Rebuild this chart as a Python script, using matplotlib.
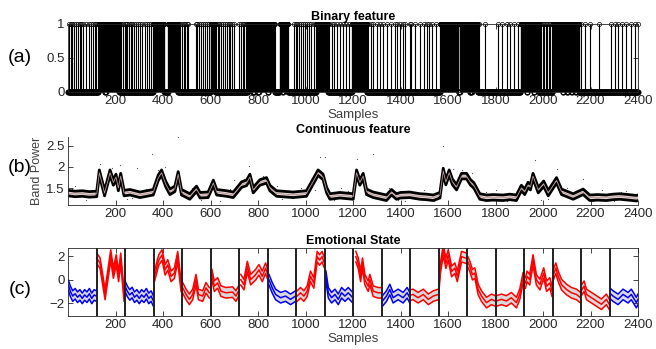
import numpy as np
import matplotlib
matplotlib.use("Agg")
import matplotlib.pyplot as plt

plt.rcParams['font.family'] = ['Liberation Sans', 'DejaVu Sans']

# ---- (a) binary feature: sample indices that are 1 ----
bin_single = [3, 11, 18, 25, 34, 41, 49, 56, 63, 74, 88, 95, 104, 112, 119,
              219, 225, 233, 238, 243, 250, 258, 264, 271, 278, 285, 295, 303, 313, 323, 331,
              341, 351,
              467, 473, 480, 487, 494, 500, 507, 537, 545, 552, 560, 568, 575, 585, 592,
              624, 630, 637, 645, 651, 660, 668, 676, 684, 692, 700,
              722, 728, 735, 741, 748, 754,
              951, 958, 966, 973, 981, 990, 998, 1007, 1015, 1022, 1036,
              1098, 1110, 1121, 1133, 1146, 1158, 1170, 1183,
              1265, 1276, 1286, 1300, 1314, 1328, 1345, 1361, 1375, 1384, 1398, 1412, 1420,
              1438, 1445, 1462, 1483, 1497, 1511, 1520, 1532, 1548,
              1694, 1697, 1730, 1756,
              1812, 1829, 1850, 1862, 1878, 1896,
              1986, 1992, 1999, 2005, 2012, 2018, 2025, 2031, 2037,
              2159, 2176, 2196, 2236, 2285, 2303, 2317, 2334, 2351, 2369, 2387, 2399]
bin_runs = [(128, 154), (159, 215), (358, 405), (421, 462), (600, 620), (757, 778),
            (785, 800), (804, 840), (845, 870), (891, 902), (906, 926), (1045, 1094),
            (1195, 1258), (1567, 1644), (1650, 1690), (1700, 1725), (1906, 1930),
            (1934, 1960), (1964, 1983), (2040, 2082), (2086, 2100), (2105, 2118),
            (2122, 2135), (2140, 2152)]
n_samples = 2400

# ---- (b) continuous feature (band power) ----
bp_x = [1, 30, 60, 90, 121, 132, 154, 177, 191, 202, 212, 222, 236, 261, 303, 359, 380, 394,
        411, 429, 450, 464, 478, 513, 541, 556, 590, 612, 626, 668, 696, 731, 752, 766, 780,
        808, 836, 850, 878, 948, 1004, 1025, 1053, 1074, 1089, 1103, 1145, 1201, 1215, 1229,
        1243, 1257, 1285, 1341, 1362, 1383, 1400, 1439, 1460, 1482, 1510, 1538, 1566, 1580,
        1591, 1605, 1619, 1636, 1657, 1678, 1695, 1709, 1734, 1762, 1790, 1832, 1860, 1888,
        1909, 1923, 1937, 1947, 1958, 1980, 2003, 2022, 2057, 2078, 2127, 2169, 2197, 2230,
        2267, 2295, 2323, 2360, 2393, 2400]
bp_y = [1.38, 1.36, 1.37, 1.35, 1.36, 1.86, 1.38, 1.86, 1.63, 1.76, 1.50, 1.78, 1.38, 1.40,
        1.34, 1.40, 1.74, 1.86, 1.60, 1.41, 1.48, 1.82, 1.40, 1.30, 1.48, 1.33, 1.34, 1.62,
        1.40, 1.37, 1.34, 1.58, 1.62, 1.76, 1.45, 1.63, 1.68, 1.50, 1.37, 1.34, 1.37, 1.58,
        1.86, 1.76, 1.45, 1.30, 1.33, 1.30, 1.86, 1.63, 1.78, 1.41, 1.34, 1.27, 1.40, 1.30,
        1.33, 1.34, 1.32, 1.30, 1.29, 1.27, 1.33, 1.90, 1.64, 1.86, 1.64, 1.52, 1.78, 1.78,
        1.63, 1.56, 1.30, 1.27, 1.28, 1.27, 1.29, 1.27, 1.50, 1.41, 1.57, 1.52, 1.78, 1.45,
        1.60, 1.38, 1.68, 1.41, 1.30, 1.41, 1.27, 1.28, 1.27, 1.29, 1.30, 1.28, 1.26, 1.27]
bp_dots_x = [134, 352, 464, 289, 220, 410, 700, 760, 1063, 1082, 1215, 1285, 1580, 1965,
             2057, 2169, 600, 160, 30, 520, 880, 980, 1150, 1350, 1500, 1700, 1800, 1900,
             2100, 2250, 2350, 75, 250, 330, 640, 820, 1120, 1420, 1620, 1990, 2300,
             15, 110, 185, 270, 380, 440, 560, 680, 740, 900, 1040, 1180, 1260, 1390, 1540,
             1660, 1760, 1850, 1940, 2020, 2140, 2210, 2330, 2380]
bp_dots_y = [2.07, 2.30, 2.69, 1.98, 2.05, 2.00, 1.70, 2.02, 2.24, 2.24, 2.19, 2.31, 2.50, 2.15,
             1.95, 1.72, 1.62, 1.60, 1.55, 1.50, 1.55, 1.50, 1.50, 1.50, 1.45, 1.85, 1.45, 1.55,
             1.50, 1.45, 1.42, 1.22, 1.25, 1.48, 1.20, 1.78, 1.21, 1.20, 1.95, 1.22, 1.20,
             1.48, 1.28, 1.98, 1.27, 1.92, 1.52, 1.22, 1.47, 1.72, 1.24, 1.46, 1.42, 1.50,
             1.22, 1.19, 1.92, 1.40, 1.20, 1.62, 1.25, 1.37, 1.19, 1.40, 1.20]

# ---- (c) emotional state ----
emo_x = [2, 10, 20, 30, 40, 50, 60, 70, 80, 90, 100, 110, 119,
         121, 135, 156, 180, 191, 203, 213, 222, 236,
         241, 250, 260, 270, 280, 290, 300, 310, 320, 330, 340, 350, 359,
         364, 382, 396, 409, 420, 434, 448, 462, 476,
         483, 497, 511, 525, 539, 549, 567, 581, 595,
         606, 616, 630, 644, 665, 693, 707, 718,
         727, 741, 755, 769, 790, 804, 818, 832, 839,
         846, 860, 874, 895, 916, 937, 958,
         965, 979, 993, 1007, 1021, 1035, 1049, 1059, 1070, 1078,
         1086, 1096, 1110, 1124, 1138, 1152, 1166, 1180, 1199,
         1212, 1222, 1232, 1240, 1250, 1264, 1271, 1285, 1306, 1318,
         1324, 1341, 1355, 1369, 1390, 1411, 1428, 1439,
         1445, 1453, 1474, 1496, 1517, 1538, 1559,
         1562, 1568, 1580, 1591, 1601, 1615, 1629, 1639, 1657, 1678,
         1684, 1692, 1703, 1713, 1727, 1741, 1762, 1783, 1799,
         1804, 1825, 1846, 1867, 1888, 1902, 1916,
         1926, 1933, 1944, 1958, 1972, 1987, 2003, 2015, 2029, 2038,
         2043, 2054, 2064, 2078, 2099, 2120, 2141, 2158,
         2162, 2173, 2183, 2204, 2225, 2246, 2267, 2279,
         2284, 2295, 2316, 2337, 2358, 2372, 2393, 2400]
emo_y = [-0.5, -1.0, -1.4, -1.2, -1.5, -1.3, -1.6, -1.3, -1.5, -1.2, -1.6, -1.3, -1.4,
         1.82, 1.4, -1.26, 2.1, 0.56, 1.68, 0.28, 1.82, -1.4,
         -0.6, -1.0, -1.3, -1.1, -1.5, -1.3, -1.6, -1.3, -1.5, -1.2, -1.6, -1.4, -1.8,
         0.28, 1.68, 2.1, 0.84, 1.26, 0.28, 0.56, 1.96, -0.56,
         -0.7, -1.26, -1.68, -1.26, 0.0, -1.26, -1.4, -0.7, -1.12,
         0.42, -0.56, -0.28, -0.98, -1.12, -1.06, -1.4, -0.98,
         0.0, -0.42, 1.12, 0.0, 0.42, 0.84, 0.28, 0.98, 0.56,
         0.0, -0.7, -1.26, -1.54, -1.4, -1.68, -1.4,
         -1.4, -1.12, -1.4, -0.98, 0.28, -0.28, 1.96, 1.68, 1.96, 1.5,
         0.3, -1.12, -1.54, -1.26, -1.68, -1.12, -1.4, -1.12, -1.54,
         1.96, 1.4, 0.28, 1.4, 0.0, -0.56, 0.0, -0.98, -1.12, -1.12,
         -1.82, -1.4, -0.84, -1.54, -1.26, -1.54, -1.12, -1.54,
         -1.3, -1.26, -1.54, -1.26, -1.68, -1.4, -1.26,
         -0.5, 0.98, 2.52, 1.4, 2.1, 0.7, 0.98, 0.28, 1.96, 1.82,
         1.5, 1.12, 0.42, 0.56, -0.84, -1.4, -1.96, -1.68, -1.82,
         -1.82, -1.68, -1.82, -1.54, -1.96, -1.26, 0.14,
         -0.28, 0.28, 0.0, 1.68, 0.0, -0.42, 0.56, -0.56, -0.28, -0.98,
         0.4, 0.98, 0.28, -0.42, -0.84, -1.12, -1.26, -1.54,
         -0.9, -0.56, -1.26, -1.54, -1.82, -2.1, -1.68, -2.1,
         -1.2, -1.4, -1.68, -1.26, -1.54, -1.26, -1.96, -1.68]
seg_colors = ['b', 'r', 'b', 'r', 'r', 'r', 'r', 'b', 'r', 'b',
              'r', 'b', 'r', 'r', 'r', 'r', 'r', 'r', 'r', 'b']
seg_len = 120

ticks_x = list(range(200, 2401, 200))
axcol = '#262626'


def style(ax, box=True):
    ax.set_xlim(0, n_samples)
    ax.set_xticks(ticks_x)
    ax.tick_params(direction='in', length=3.5, width=0.6, colors=axcol,
                   labelsize=9.5, top=box, right=box, pad=2.5)
    for s in ax.spines.values():
        s.set_color(axcol)
        s.set_linewidth(0.6)
    if not box:
        ax.spines['top'].set_visible(False)
        ax.spines['right'].set_visible(False)


fig = plt.figure(figsize=(6.56, 3.49), dpi=100)
L, W, H = 68 / 656, 570 / 656, 68 / 349

# (a)
ax1 = fig.add_axes([L, 1 - 92 / 349, W, H])
sig = np.zeros(n_samples)
for a, b in bin_runs:
    sig[a - 1:b] = 1
for i in bin_single:
    sig[i - 1] = 1
xs = np.arange(1, n_samples + 1)
on = sig == 1
ax1.vlines(xs[on], 0, 1, color='k', lw=0.8)
ax1.plot(xs[~on], sig[~on], 'o', ms=3.4, mfc='none', mec='k', mew=0.7, clip_on=False)
ax1.plot(xs[on], sig[on], 'o', ms=3.0, mfc='none', mec='k', mew=0.5, clip_on=False)
ax1.axhline(0, color='k', lw=0.6)
ax1.set_ylim(0, 1)
ax1.set_yticks([0, 0.5, 1])
ax1.set_yticklabels(['0', '0.5', '1'])
style(ax1)
ax1.set_title('Binary feature', fontsize=9, fontweight='bold', pad=3)
ax1.set_xlabel('Samples', fontsize=9.5, color='#404040', labelpad=1)

# (b)
ax2 = fig.add_axes([L, 1 - 205 / 349, W, H])
bx = np.array(bp_x)
by = np.array(bp_y)
ax2.scatter(bp_dots_x, bp_dots_y, s=0.8, color='#555555', lw=0)
ax2.fill_between(bx, by - 0.065, by + 0.065, color='#ead6d6', lw=0)
ax2.plot(bx, by + 0.065, color='k', lw=2.0)
ax2.plot(bx, by - 0.065, color='k', lw=2.0)
ax2.plot(bx, by, color='#b89898', lw=0.6)
ax2.set_ylim(1.1, 2.7)
ax2.set_yticks([1.5, 2, 2.5])
ax2.set_yticklabels(['1.5', '2', '2.5'])
style(ax2, box=False)
ax2.set_title('Continuous feature', fontsize=9, fontweight='bold', pad=3)
ax2.set_ylabel('Band Power', fontsize=9, color='#404040', labelpad=2)

# (c)
ax3 = fig.add_axes([L, 1 - 316 / 349, W, H])
ex = np.array(emo_x)
ey = np.array(emo_y)
cmap = {'r': '#ff0000', 'b': '#0000ff'}
for k, c in enumerate(seg_colors):
    m = (ex >= k * seg_len) & (ex <= (k + 1) * seg_len)
    sx, sy = ex[m], ey[m]
    ax3.fill_between(sx, sy - 0.45, sy + 0.45, color='#d9d9d9', lw=0)
    for off in (-0.45, 0, 0.45):
        ax3.plot(sx, sy + off, color=cmap[c], lw=1.1)
for k in range(1, len(seg_colors)):
    ax3.axvline(k * seg_len, color='#202020', lw=1.4)
ax3.set_ylim(-3.1, 2.7)
ax3.set_yticks([-2, 0, 2])
style(ax3)
ax3.set_title('Emotional State', fontsize=9, fontweight='bold', pad=3)
ax3.set_xlabel('Samples', fontsize=9.5, color='#404040', labelpad=1)

for lab, y in (('(a)', 58), ('(b)', 168), ('(c)', 290)):
    fig.text(20 / 656, 1 - y / 349, lab, fontsize=14, ha='center', va='center')

fig.savefig('out.png', dpi=100)
